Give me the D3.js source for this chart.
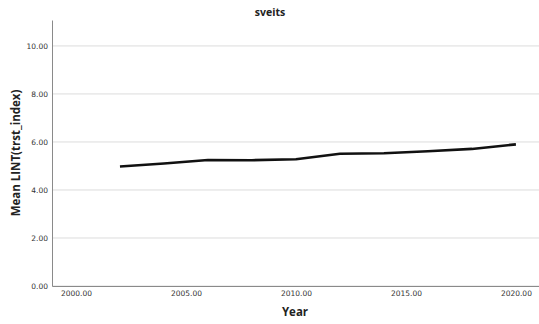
<!DOCTYPE html>
<html><head><meta charset="utf-8">
<script src="https://cdn.jsdelivr.net/npm/d3@7"></script>
<style>body{margin:0;background:#fff}</style>
</head><body>
<svg id="c" width="539" height="324"></svg>
<script>
const years = [2002, 2004, 2006, 2008, 2010, 2012, 2014, 2016, 2018, 2020];
const meanTrust = [4.98, 5.10, 5.25, 5.24, 5.28, 5.51, 5.53, 5.61, 5.71, 5.90];
const xTicks = [2000, 2005, 2010, 2015, 2020];
const yTicks = [0, 2, 4, 6, 8, 10];
const title = "sveits";
const xTitle = "Year";
const yTitle = "Mean LINT(trst_index)";

const svg = d3.select("#c");
const L = 52, R = 539, T = 20, B = 286;
const x = d3.scaleLinear().domain([1998.91, 2021.05]).range([L, R]);
const y = d3.scaleLinear().domain([0, 11.08]).range([B, T]);

// grid
svg.append("g").selectAll("line").data(yTicks).join("line")
  .attr("x1", L).attr("x2", R).attr("y1", d => y(d)).attr("y2", d => y(d))
  .attr("stroke", "#dcdcdc").attr("stroke-width", 1);

// axes
const fmt = d3.format(".2f");
const yAxis = svg.append("g").attr("transform", `translate(${L},0)`)
  .call(d3.axisLeft(y).tickValues(yTicks).tickFormat(fmt).tickSize(0).tickPadding(4));
yAxis.select(".domain").attr("stroke", "#8a8a8a");
const xAxis = svg.append("g").attr("transform", `translate(0,${B})`)
  .call(d3.axisBottom(x).tickValues(xTicks).tickFormat(fmt).tickSize(0).tickPadding(5));
xAxis.select(".domain").attr("stroke", "#8a8a8a");
svg.selectAll(".tick text").attr("font-family", "DejaVu Sans, sans-serif")
  .attr("font-size", 7.5).attr("fill", "#333");

// line
svg.append("path").datum(years.map((yr, i) => [yr, meanTrust[i]]))
  .attr("fill", "none").attr("stroke", "#111").attr("stroke-width", 2.6)
  .attr("stroke-linejoin", "round")
  .attr("d", d3.line().x(d => x(d[0])).y(d => y(d[1])));

// titles
svg.append("text").attr("x", 270).attr("y", 16).attr("text-anchor", "middle")
  .attr("font-family", "Open Sans, sans-serif").attr("font-weight", "bold")
  .attr("font-size", 10.5).attr("fill", "#222").text(title);
svg.append("text").attr("x", 295).attr("y", 316).attr("text-anchor", "middle")
  .attr("font-family", "Open Sans, sans-serif").attr("font-weight", "bold")
  .attr("font-size", 11.5).attr("fill", "#222").text(xTitle);
svg.append("text").attr("transform", "translate(20,153) rotate(-90)").attr("text-anchor", "middle")
  .attr("font-family", "Open Sans, sans-serif").attr("font-weight", "bold")
  .attr("font-size", 11.5).attr("fill", "#222").text(yTitle);
</script>
</body></html>
